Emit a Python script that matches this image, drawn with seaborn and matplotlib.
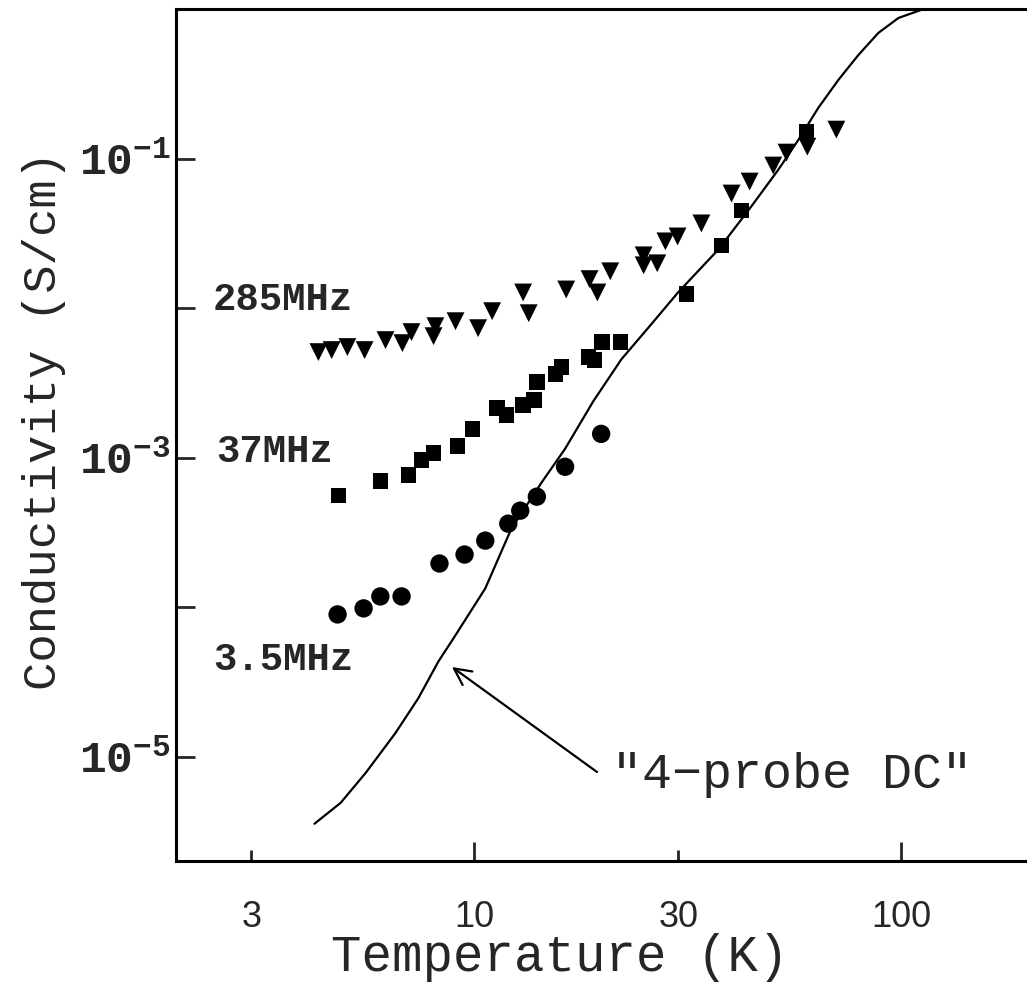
import numpy as np
import pandas as pd
import matplotlib
matplotlib.use("Agg")
import matplotlib.pyplot as plt
import seaborn as sns

# ---------------- data ----------------
T_285 = [4.31, 4.63, 5.04, 5.53, 6.19, 6.78, 7.12, 8.10, 8.02, 9.03, 10.2, 11.0,
         13.0, 13.4, 16.4, 18.6, 20.8, 19.4, 24.9, 24.9, 26.8, 28.0, 29.9, 34.0,
         40.0, 44.1, 50.1, 53.8, 60.2, 70.4]
S_285 = [5.07e-3, 5.23e-3, 5.48e-3, 5.23e-3, 6.10e-3, 5.82e-3, 6.90e-3, 7.56e-3,
         6.48e-3, 8.16e-3, 7.33e-3, 9.52e-3, 1.27e-2, 9.23e-3, 1.33e-2, 1.56e-2,
         1.76e-2, 1.27e-2, 2.25e-2, 1.93e-2, 1.99e-2, 2.79e-2, 3.01e-2, 3.68e-2,
         5.83e-2, 7.01e-2, 8.97e-2, 0.1095, 0.120, 0.156]

T_37 = [4.80, 6.02, 7.00, 7.51, 8.02, 9.12, 9.89, 11.3, 11.9, 13.0, 13.8, 14.0,
        15.5, 16.0, 18.5, 19.1, 19.9, 22.0, 31.4, 37.9, 42.2, 59.9]
S_37 = [5.55e-4, 6.99e-4, 7.66e-4, 9.65e-4, 1.075e-3, 1.197e-3, 1.554e-3, 2.146e-3,
        1.927e-3, 2.247e-3, 2.426e-3, 3.20e-3, 3.62e-3, 4.03e-3, 4.70e-3, 4.49e-3,
        5.91e-3, 5.91e-3, 1.237e-2, 2.62e-2, 4.49e-2, 0.151]

T_35 = [4.78, 5.50, 6.02, 6.75, 8.28, 9.48, 10.6, 12.0, 12.8, 14.0, 16.3, 19.8]
S_35 = [8.92e-5, 9.79e-5, 1.177e-4, 1.177e-4, 1.954e-4, 2.244e-4, 2.78e-4, 3.61e-4,
        4.41e-4, 5.47e-4, 8.67e-4, 1.439e-3]

T_dc = [4.22, 4.86, 5.56, 6.53, 7.39, 8.24, 8.93, 10.6, 12.2, 14.4, 16.3, 19.0,
        22.1, 25.6, 30.0, 37.3, 44.5, 51.5, 57.4, 63.9, 71.2, 79.3, 88.3, 98.4,
        114.4, 130.0]
S_dc = [3.55e-6, 4.90e-6, 7.76e-6, 1.435e-5, 2.457e-5, 4.34e-5, 6.17e-5, 1.331e-4,
        3.34e-4, 6.88e-4, 1.143e-3, 2.39e-3, 4.55e-3, 7.44e-3, 1.274e-2, 2.47e-2,
        4.78e-2, 8.43e-2, 0.1337, 0.2186, 0.336, 0.493, 0.692, 0.871, 1.015, 1.05]

x_major = [10, 100]
x_major_labels = ["10", "100"]
x_minor = [3, 30]
x_minor_labels = ["3", "30"]
y_major = [1e-1, 1e-3, 1e-5]
y_major_labels = [r"$\mathregular{10^{-1}}$", r"$\mathregular{10^{-3}}$", r"$\mathregular{10^{-5}}$"]
y_minor = [1e-2, 1e-4]

series_labels = ["285MHz", "37MHz", "3.5MHz"]
dc_label = "\"4\u2212probe DC\""

# ---------------- plot ----------------
sns.set_style("ticks")
plt.rcParams["font.family"] = ["Liberation Mono", "DejaVu Sans"]
plt.rcParams["axes.linewidth"] = 2.2

W, H = 1027, 989
fig = plt.figure(figsize=(W / 100, H / 100), dpi=100)
L, R, B, Tp = 176, 1030, 861, 9
ax = fig.add_axes([L / W, (H - B) / H, (R - L) / W, (B - Tp) / H])

df_dc = pd.DataFrame({"T": T_dc, "S": S_dc})
sns.lineplot(data=df_dc, x="T", y="S", sort=False, estimator=None,
             color="black", linewidth=1.6, ax=ax)

df285 = pd.DataFrame({"T": T_285, "S": S_285})
df37 = pd.DataFrame({"T": T_37, "S": S_37})
df35 = pd.DataFrame({"T": T_35, "S": S_35})
sns.scatterplot(data=df285, x="T", y="S", marker="v", s=165, color="black",
                edgecolor="none", linewidth=0, ax=ax)
sns.scatterplot(data=df37, x="T", y="S", marker="s", s=125, color="black",
                edgecolor="none", linewidth=0, ax=ax)
sns.scatterplot(data=df35, x="T", y="S", marker="o", s=175, color="black",
                edgecolor="none", linewidth=0, ax=ax)

ax.set_xscale("log")
ax.set_yscale("log")
ax.set_xlim(2, 200)
ax.set_ylim(2e-6, 1)

ax.set_xticks(x_major, labels=x_major_labels, fontfamily="Liberation Sans", fontsize=26)
ax.set_xticks(x_minor, labels=x_minor_labels, minor=True,
              fontfamily="Liberation Sans", fontsize=26)
ax.set_yticks(y_major, labels=y_major_labels, fontsize=32, fontweight="bold")
ax.set_yticks(y_minor, minor=True)
ax.yaxis.set_minor_formatter(matplotlib.ticker.NullFormatter())

ax.tick_params(axis="x", which="major", direction="in", length=14, width=2, pad=28)
ax.tick_params(axis="x", which="minor", direction="in", length=8, width=2, pad=28)
ax.tick_params(axis="y", which="both", direction="in", length=14, width=2, pad=4,
               right=False)
ax.tick_params(top=False)
for sp in ax.spines.values():
    sp.set_visible(True)
    sp.set_color("black")

ax.set_xlabel("Temperature (K)", fontsize=36.5)
ax.xaxis.set_label_coords((560 - L) / (R - L), (B - 933) / (B - Tp))
ax.set_ylabel("Conductivity (S/cm)", fontsize=34)
ax.yaxis.set_label_coords((66 - L) / (R - L), (B - 420) / (B - Tp))

tfs = 28
ax.text((213 - L) / (R - L), (B - 300) / (B - Tp), series_labels[0], transform=ax.transAxes,
        fontsize=tfs, fontweight="bold", va="center", ha="left")
ax.text((216 - L) / (R - L), (B - 452) / (B - Tp), series_labels[1], transform=ax.transAxes,
        fontsize=tfs, fontweight="bold", va="center", ha="left")
ax.text((213 - L) / (R - L), (B - 660) / (B - Tp), series_labels[2], transform=ax.transAxes,
        fontsize=tfs, fontweight="bold", va="center", ha="left")
ax.text((612 - L) / (R - L), (B - 775) / (B - Tp), dc_label, transform=ax.transAxes,
        fontsize=36, va="center", ha="left")
ax.annotate("", xy=((452 - L) / (R - L), (B - 667) / (B - Tp)),
            xytext=((597 - L) / (R - L), (B - 772) / (B - Tp)),
            xycoords="axes fraction", textcoords="axes fraction",
            arrowprops=dict(arrowstyle="->", lw=1.6, color="black", mutation_scale=30,
                            shrinkA=0, shrinkB=0))

fig.savefig("out.png", dpi=100)
